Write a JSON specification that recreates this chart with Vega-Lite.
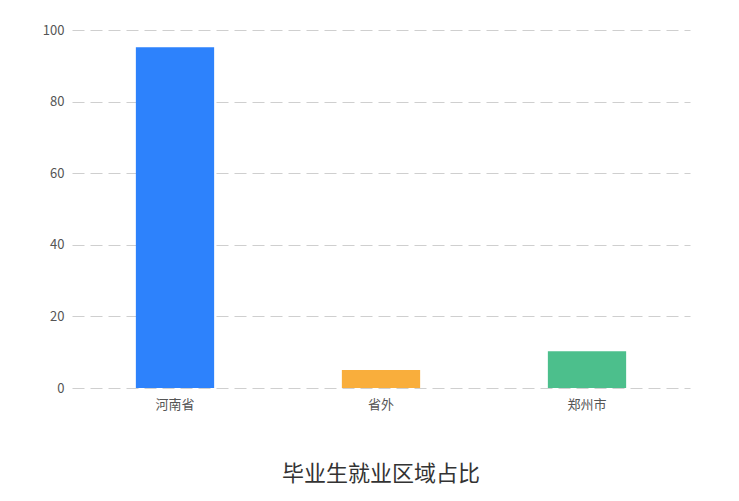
{
  "$schema": "https://vega.github.io/schema/vega-lite/v6.json",
  "autosize": "none",
  "width": 618,
  "height": 358,
  "padding": {"left": 72, "top": 30, "right": 49, "bottom": 113},
  "background": "white",
  "data": {"values": [
    {"region": "河南省", "value": 95.2},
    {"region": "省外", "value": 5.0},
    {"region": "郑州市", "value": 10.3}
  ]},
  "title": {
    "text": "毕业生就业区域占比",
    "orient": "bottom",
    "anchor": "middle",
    "offset": 53,
    "font": "Noto Sans CJK SC",
    "fontSize": 22,
    "fontWeight": "normal",
    "color": "#333"
  },
  "mark": {"type": "bar"},
  "encoding": {
    "x": {
      "field": "region", "type": "nominal", "sort": null,
      "scale": {"paddingInner": 0.62, "paddingOuter": 0.31},
      "axis": {"title": null, "labelAngle": 0, "domain": false, "ticks": false,
        "labelFont": "Noto Sans CJK SC", "labelFontSize": 13, "labelColor": "#555", "labelPadding": 10}
    },
    "y": {
      "field": "value", "type": "quantitative",
      "scale": {"domain": [0, 100]},
      "axis": {"title": null, "values": [0, 20, 40, 60, 80, 100], "domain": false, "ticks": false,
        "labelFont": "Noto Sans CJK SC", "labelFontSize": 13, "labelColor": "#555", "labelPadding": 8,
        "grid": true, "gridDash": [12, 6], "gridColor": "#cfcfcf", "gridWidth": 1}
    },
    "color": {
      "field": "region", "type": "nominal", "legend": null,
      "scale": {"domain": ["河南省", "省外", "郑州市"], "range": ["#2d82fc", "#f9ae3c", "#4cbf8c"]}
    }
  },
  "config": {"view": {"stroke": null}}
}
